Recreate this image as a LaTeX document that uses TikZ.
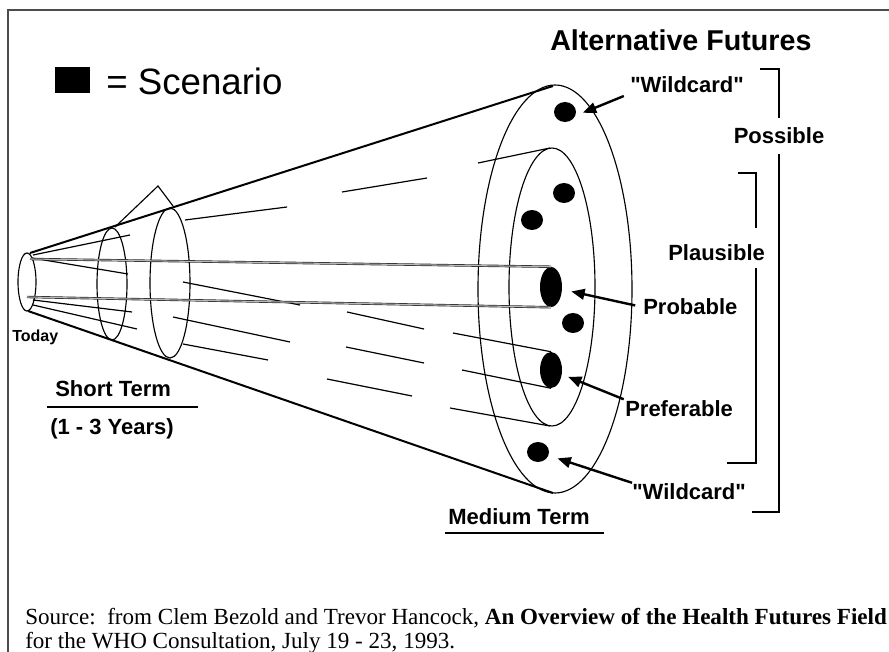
\documentclass[tikz,border=0pt]{standalone}
\usepackage{fontspec}
\setmainfont{Liberation Serif}
\setsansfont{Liberation Sans}[Ligatures=TeXOff]
\usetikzlibrary{shapes.geometric,arrows.meta}

\begin{document}
\begin{tikzpicture}[x=0.75pt,y=-0.75pt,
  frame/.style={draw=black!70,line width=1.1pt},
  cone/.style={line width=1.5pt},
  rim/.style={line width=0.85pt},
  streak/.style={line width=0.9pt},
  tube/.style={draw=black!85,line width=0.5pt,double=gray!55,double distance=0.8pt},
  scen/.style={ellipse,fill=black,inner sep=0pt,minimum width=16.5pt,minimum height=15pt},
  lbl/.style={font=\sffamily\bfseries\fontsize{16.5}{18}\selectfont,inner sep=0pt,anchor=base west},
  arr/.style={-{Triangle[length=10pt,width=8pt]},line width=1.8pt},
  brk/.style={line width=2pt},
  rule/.style={line width=1.1pt}
]
\useasboundingbox (0,0) rectangle (889,652);

% Frame
\draw[frame] (8,652) -- (8,10) -- (889,10);

% Legend and title
\fill (55,67) rectangle (90,93);
\node[anchor=base west,inner sep=0pt,font=\sffamily\fontsize{27.5}{30}\selectfont] (legend) at (106,95) {= Scenario};
\node[anchor=base west,inner sep=0pt,font=\sffamily\bfseries\fontsize{21.5}{24}\selectfont] (title) at (550,51) {Alternative Futures};

% Short term rings
\draw[rim] (27,282) ellipse [x radius=9,y radius=29];
\draw[rim] (112,284) ellipse [x radius=15,y radius=56];
\draw[rim] (170,283) ellipse [x radius=20,y radius=75];
\draw[rim] (115,227) -- (158,186) -- (173,206);

% Cone
\draw[cone] (30,253) -- (553,86);
\draw[cone] (28,311) -- (553,493);
\draw[rim] (555,289) ellipse [x radius=77,y radius=204];
\draw[rim] (552,287) ellipse [x radius=43,y radius=139];
\draw[streak] (478,163) -- (550,148);
\draw[streak] (450,408) -- (550,426);

% Streaks inside the cone
\foreach \xa/\ya/\xb/\yb in {33/255/130/235, 32/258/128/274, 33/300/132/312, 33/305/137/329,
    185/220/287/207, 342/192/427/178, 183/282/300/305, 173/317/290/342,
    183/344/268/360, 347/312/424/329, 346/347/424/363, 327/379/412/396}
  \draw[streak] (\xa,\ya) -- (\xb,\yb);

% Tubes
\node[scen,minimum height=30pt] (dProb) at (551,287) {};
\node[scen,minimum height=27pt] (dPref) at (551,370) {};
\draw[tube] (30,259) -- (dProb.north);
\draw[tube] (27,297) -- (dProb.south);
\draw[streak] (453,333) -- (dPref.north);
\draw[streak] (462,370) -- (dPref.south);

% Scenarios
\node[scen] (dWildTop) at (565,112) {};
\node[scen] (dUpA) at (564,193) {};
\node[scen] (dUpB) at (532,220) {};
\node[scen] (dMid) at (573,323) {};
\node[scen] (dWildBot) at (538,452) {};

% Labels
\node[lbl] (wildTop) at (630,93) {"Wildcard"};
\node[lbl,anchor=base,inner ysep=7.5pt] (possible) at (779,144) {Possible};
\node[lbl] (plausible) at (668,261) {Plausible};
\node[lbl] (probable) at (643,315) {Probable};
\node[lbl] (preferable) at (625,416) {Preferable};
\node[lbl] (wildBot) at (632,499) {"Wildcard"};
\node[lbl] (medium) at (448,524) {Medium Term};
\node[lbl] (short) at (55,397) {Short Term};
\node[lbl] (years) at (50,434) {(1 - 3 Years)};
\node[lbl,font=\sffamily\bfseries\fontsize{12}{14}\selectfont] (today) at (12,342) {Today};

% Arrows
\draw[arr,shorten <=5pt,shorten >=6pt] (wildTop.south west) -- (dWildTop.-20);
\draw[arr,shorten <=6pt,shorten >=7pt] (probable.west) -- (dProb);
\draw[arr,shorten <=1pt,shorten >=5pt] (preferable.north west) -- (dPref);
\draw[arr,shorten >=7pt] (wildBot.north west) -- (dWildBot);

% Brackets
\draw[brk] (760,69) -| (possible.north);
\draw[brk] (possible.south) |- (752,512);
\draw[brk] (738,173) -| (756,228);
\draw[brk] (756,268) |- (727,463);

% Rules under the terms
\draw[rule] (445,533) -- (604,533);
\draw[rule] (47,407) -- (198,407);

% Source
\node[anchor=base west,inner sep=0pt,font=\fontsize{17.3}{20}\selectfont] (src1) at (25,624)
  {Source:\ \ from Clem Bezold and Trevor Hancock, \textbf{An Overview of the Health Futures Field}};
\node[anchor=base west,inner sep=0pt,font=\fontsize{17.3}{20}\selectfont] (src2) at (25,648)
  {for the WHO Consultation, July 19 - 23, 1993.};
\end{tikzpicture}
\end{document}
